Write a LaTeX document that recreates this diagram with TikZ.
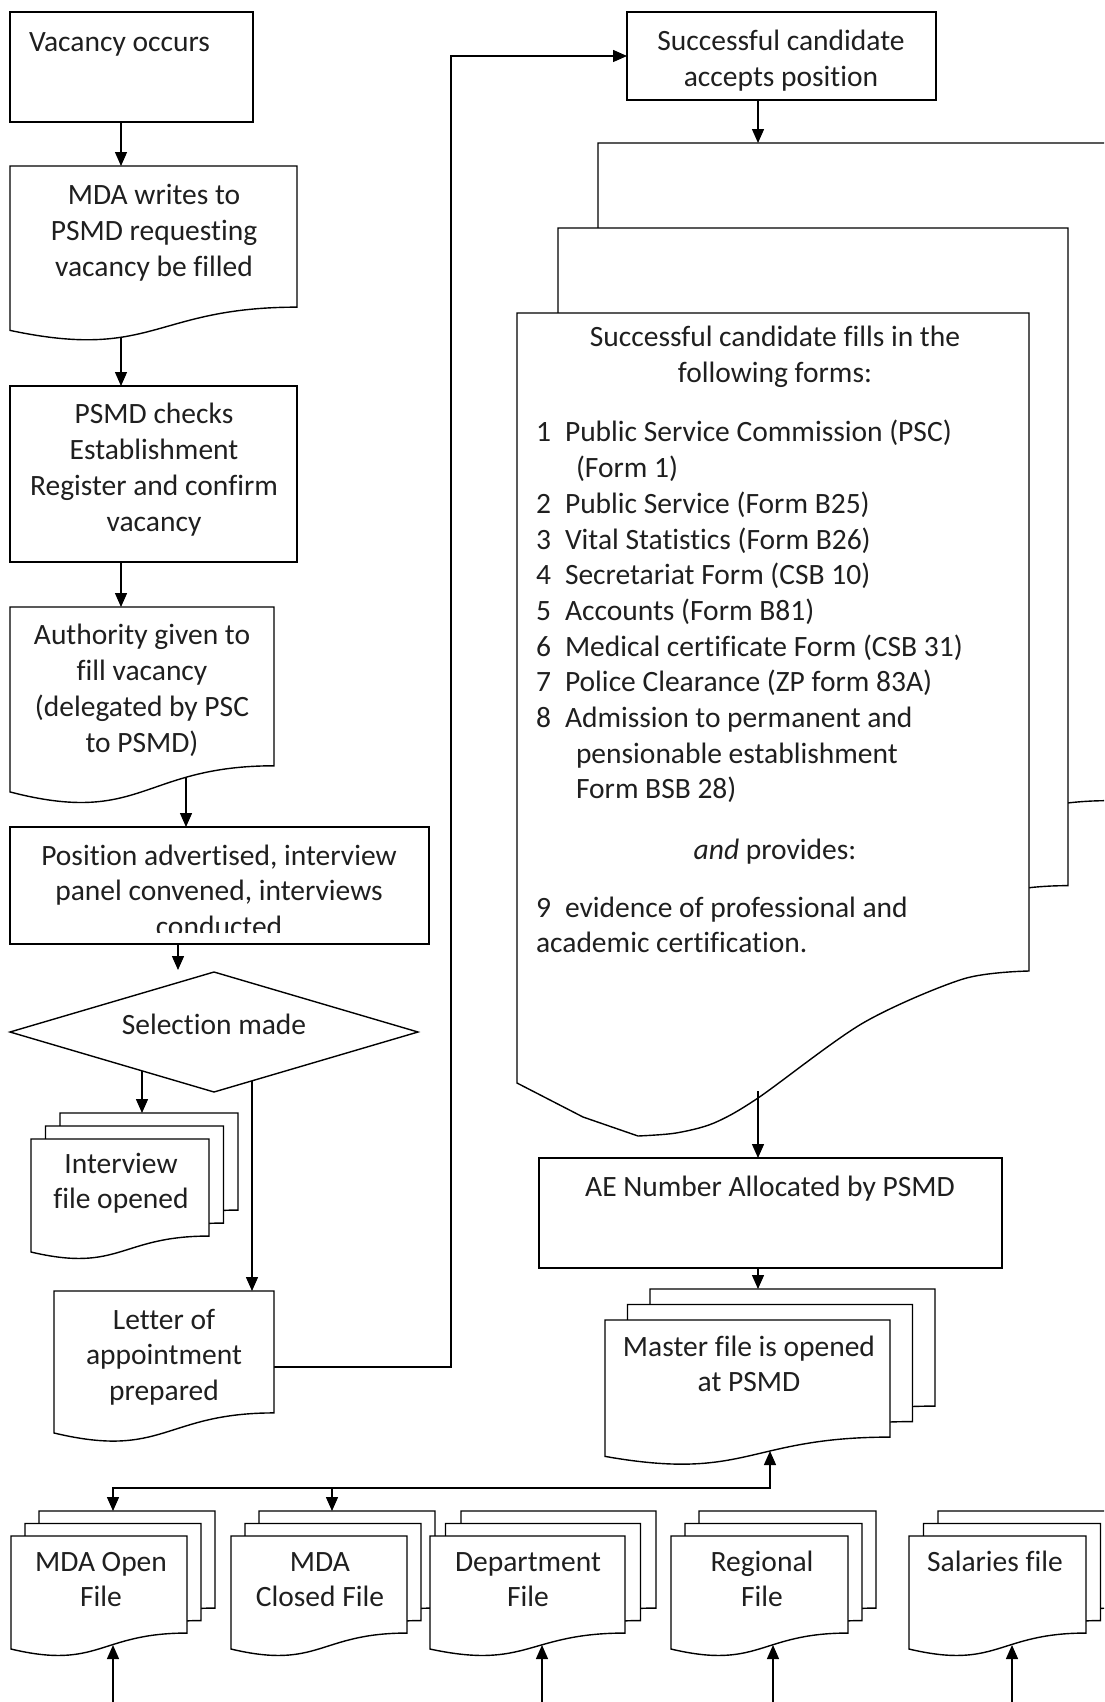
\documentclass[tikz,border=0pt]{standalone}
\usepackage{fontspec}
\setmainfont{Carlito}[Ligatures=NoCommon]
\usetikzlibrary{calc,arrows.meta,shapes.geometric}
\pgfdeclarelayer{backdrop}
\pgfdeclarelayer{bg}
\pgfsetlayers{backdrop,bg,main}
\tikzset{
  ln/.style={line width=1.4pt, draw=black, line join=miter},
  arr/.style={ln, -{Triangle[length=14pt,width=12pt]}},
  boxs/.style={ln, fill=white, inner sep=0pt, outer sep=0pt},
  docbox/.style={inner sep=0pt, outer sep=0pt},
  txt/.style={inner sep=0pt, outer sep=0pt, font=\fontsize{29.5pt}{35.7pt}\selectfont, text=black!88},
}
\newcommand{\rbox}[5]{%
  \node[boxs, minimum width={(#4)-(#2)}, minimum height={(#5)-(#3)}] (#1) at ({((#2)+(#4))/2},{((#3)+(#5))/2}) {};}
\newcommand{\dbox}[5]{%
  \node[docbox, minimum width={(#4)-(#2)}, minimum height={#5}] (#1) at ({((#2)+(#4))/2},{(#3)+(#5)/2}) {};
  \draw[ln, fill=white] (#1.north west) -- (#1.north east) -- ($(#1.north east)!0.802!(#1.south east)$)
    .. controls ($(#1.north)!0.802!(#1.south)$) and ($(#1.north)!1.1075!(#1.south)$) .. ($(#1.north west)!0.934!(#1.south west)$) -- cycle;}
\newcommand{\mdoc}[7]{%
  \dbox{#1-b}{(#2)+2*(#6)}{(#3)-2*(#7)}{(#4)+2*(#6)}{#5}
  \dbox{#1-m}{(#2)+(#6)}{(#3)-(#7)}{(#4)+(#6)}{#5}
  \dbox{#1}{#2}{#3}{#4}{#5}}
\begin{document}
\begin{tikzpicture}[x=1pt,y=-1pt]
\useasboundingbox (0,0) rectangle (1104,1702);
\begin{pgfonlayer}{backdrop}
  \fill[white] (0,0) rectangle (1104,1702);
\end{pgfonlayer}
\clip (0,0) rectangle (1104,1702);

% ---------- left column ----------
\rbox{vac}{10}{12}{253}{122}
\node[txt, anchor=north west, align=left] (vac-t) at (29,27) {\strut Vacancy occurs};

\dbox{mda}{10}{166}{297}{176}
\node[txt, anchor=north, align=center] (mda-t) at (154,180) {\strut MDA writes to\\PSMD requesting\\vacancy be filled};

\rbox{psmd}{10}{386}{297}{562}
\node[txt, anchor=north, align=center] (psmd-t) at (154,399) {\strut PSMD checks\\Establishment\\Register and confirm\\vacancy};

\dbox{auth}{10}{607}{274}{198}
\node[txt, anchor=north, align=center] (auth-t) at (142,620) {\strut Authority given to\\fill vacancy\\(delegated by PSC\\to PSMD)};

\rbox{pos}{10}{827}{429}{944}
\begin{scope}
  \clip ([yshift=12pt]pos.south west) rectangle (pos.north east);
  \node[txt, anchor=north, align=center] (pos-t) at (219,840) {\strut Position advertised, interview\\panel convened, interviews\\conducted};
\end{scope}

\node[ln, fill=white, diamond, minimum width=408pt, minimum height=120pt, inner sep=0pt, outer sep=0pt] (sel) at (214,1032) {};
\node[txt, anchor=north] (sel-t) at (214,1009) {\strut Selection made};

\mdoc{int}{31}{1139}{209}{121}{14.5}{13}
\node[txt, anchor=north, align=center] (int-t) at (121,1148) {\strut Interview\\file opened};

\dbox{let}{54}{1291}{274}{152}
\node[txt, anchor=north, align=center] (let-t) at (164,1304) {\strut Letter of\\appointment\\prepared};

% ---------- right column ----------
\rbox{succ}{627}{12}{936}{100}
\node[txt, anchor=north, align=center] (succ-t) at (781,26) {\strut Successful candidate\\accepts position};

\dbox{big-b}{598}{143}{1109}{820}
\dbox{big-m}{558}{228}{1068}{820}
\node[docbox, minimum width=512pt, minimum height=820pt] (big) at (773,723) {};
\draw[ln, fill=white] (big.north west) -- (big.north east) -- (1029,971)
  -- plot[smooth, tension=0.5] coordinates {(1029,971) (963,979) (863,1023) (758,1098) (714,1123) (676,1133) (638,1136)}
  -- (583,1117) -- (517,1083) -- cycle;
\node[txt, anchor=north, align=center] (big-t) at (775,322) {\strut Successful candidate fills in the\\following forms:};
\node[txt, anchor=north west, align=left] (forms) at (536,417) {%
\strut\makebox[29pt][l]{1}Public Service Commission (PSC)\\
\hspace*{40pt}(Form 1)\\
\makebox[29pt][l]{2}Public Service (Form B25)\\
\makebox[29pt][l]{3}Vital Statistics (Form B26)\\
\makebox[29pt][l]{4}Secretariat Form (CSB 10)\\
\makebox[29pt][l]{5}Accounts (Form B81)\\
\makebox[29pt][l]{6}Medical certificate Form (CSB 31)\\
\makebox[29pt][l]{7}Police Clearance (ZP form 83A)\\
\makebox[29pt][l]{8}Admission to permanent and\\
\hspace*{40pt}pensionable establishment\\
\hspace*{40pt}Form BSB 28)};
\node[txt, anchor=north] (prov-t) at (775,834) {\strut\textit{and} provides:};
\node[txt, anchor=north west, align=left] (item9) at (536,892) {\strut\makebox[29pt][l]{9}evidence of professional and\\academic certification.};

\rbox{ae}{539}{1158}{1002}{1268}
\node[txt, anchor=north] (ae-t) at (770,1171) {\strut AE Number Allocated by PSMD};

\mdoc{mst}{605}{1320}{890}{146}{22.5}{15.5}
\node[txt, anchor=north, align=center] (mst-t) at (749,1331) {\strut Master file is opened\\at PSMD};

% ---------- bottom row ----------
\mdoc{mo}{11}{1536}{187}{121}{14}{12.5}
\node[txt, anchor=north, align=center] (mo-t) at (101,1546) {\strut MDA Open\\File};
\mdoc{mc}{231}{1536}{407}{121}{14}{12.5}
\node[txt, anchor=north, align=center] (mc-t) at (320,1546) {\strut MDA\\Closed File};
\mdoc{dep}{430}{1536}{625}{121}{15.5}{12.5}
\node[txt, anchor=north, align=center] (dep-t) at (528,1546) {\strut Department\\File};
\mdoc{reg}{671}{1536}{848}{121}{14}{12.5}
\node[txt, anchor=north, align=center] (reg-t) at (762,1546) {\strut Regional\\File};
\mdoc{sal}{909}{1536}{1086}{121}{14.5}{12.5}
\node[txt, anchor=north] (sal-t) at (995,1546) {\strut Salaries file};

% ---------- connectors ----------
\coordinate (xa) at (121,0);
\coordinate (xb) at (186,0);
\coordinate (xc) at (142,0);
\coordinate (xd) at (252,0);
\coordinate (xe) at (451,0);
\coordinate (xf) at (758,0);
\coordinate (selin) at (178,970);
\coordinate (bigout) at (758,1091);
\coordinate (jr) at (770,1488);
\coordinate (jl) at (113,1488);
\coordinate (jm) at (332,1488);
\coordinate (mstin) at (770,1451);
\coordinate (mo-s) at (113,1702);  \coordinate (mo-in) at (113,1645);
\coordinate (dep-s) at (542,1702); \coordinate (dep-in) at (542,1645);
\coordinate (reg-s) at (773,1702); \coordinate (reg-in) at (773,1645);
\coordinate (sal-s) at (1012,1702);\coordinate (sal-in) at (1012,1645);
\draw[arr] (bigout) -- (ae.north -| xf);
\begin{pgfonlayer}{bg}
  \draw[arr] (vac.south -| xa) -- (mda.north -| xa);
  \draw[arr] (mda.center -| xa) -- (psmd.north -| xa);
  \draw[arr] (psmd.south -| xa) -- (auth.north -| xa);
  \draw[arr] (auth.center -| xb) -- (pos.north -| xb);
  \draw[arr] (pos.south -| selin) -- (selin);
  \draw[arr] (sel.center -| xc) -- (int-b.north -| xc);
  \draw[arr] (sel.center -| xd) -- (let.north -| xd);
  \draw[arr] (let.center) -- (let.center -| xe) |- (succ.west);
  \draw[arr] (succ.south -| xf) -- (big-b.north -| xf);
  \draw[arr] (ae.south -| xf) -- (mst-b.north -| xf);
  \draw[ln, {Triangle[length=14pt,width=12pt]}-{Triangle[length=14pt,width=12pt]}] (mstin) -- (jr) -- (jl) -- (mo-b.north -| jl);
  \draw[arr] (jm) -- (mc-b.north -| jm);
  \draw[arr] (mo-s) -- (mo-in);
  \draw[arr] (dep-s) -- (dep-in);
  \draw[arr] (reg-s) -- (reg-in);
  \draw[arr] (sal-s) -- (sal-in);
\end{pgfonlayer}
\end{tikzpicture}
\end{document}
